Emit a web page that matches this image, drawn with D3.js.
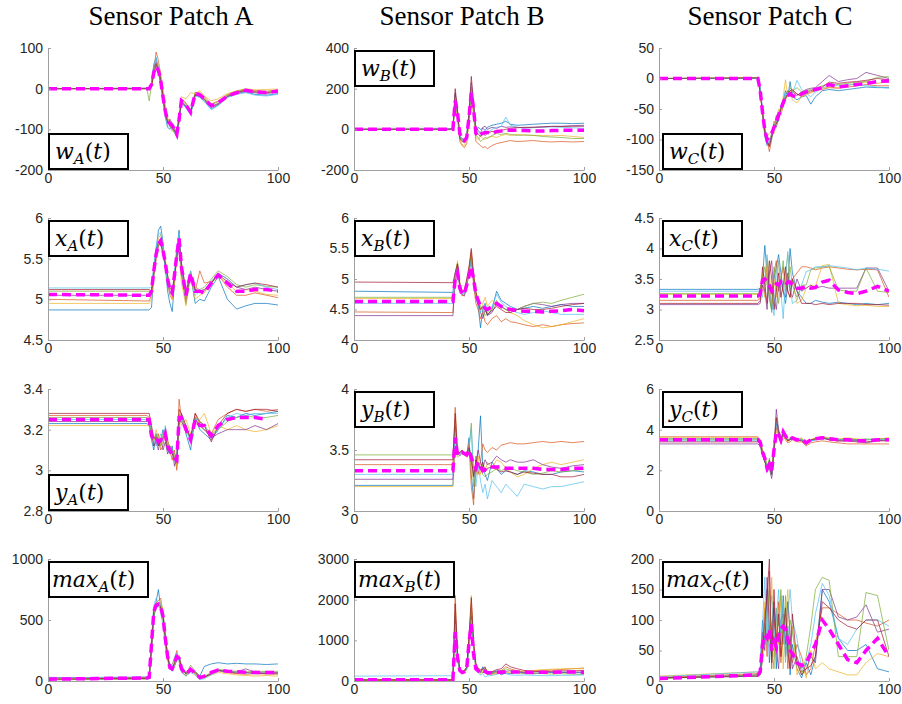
<!DOCTYPE html>
<html>
<head>
<meta charset="utf-8">
<script src="https://cdn.jsdelivr.net/npm/d3@7"></script>
<style>
  body { margin: 0; background: #fff; }
</style>
</head>
<body>
<svg id="chart" width="902" height="704"></svg>
<script>
// shared time samples (same for every trace)
const T = [0, 43,  44, 45, 46, 47, 48, 49, 50, 51, 52, 53, 54, 55, 56, 57, 58,  60, 62, 64, 66, 68, 71, 74, 78, 82, 86, 90, 95, 100];

const patches = ["Sensor Patch A", "Sensor Patch B", "Sensor Patch C"];
const varNames = ["w", "x", "y", "max"];
const subNames = ["A", "B", "C"];
const colors = ["#0072BD", "#D95319", "#EDB120", "#7E2F8E", "#77AC30", "#4DBEEE", "#A2142F"];

// ---- w(t) ----
const wA = [
  [0,1,  0,15,60,75,50,15,-30,-70,-95,-100,-90,-105,-120,-80,-35,  -45,-62,-15,-20,-30,-50,-40,-20,-12,-8,-14,-16,-12],
  [0,0,  2,5,45,90,70,30,-10,-50,-75,-80,-95,-110,-100,-70,-25,  -35,-55,-10,-10,-20,-38,-30,-15,-8,-2,-5,-6,-4],
  [0,0,  1,8,30,50,60,40,0,-40,-70,-90,-105,-95,-105,-60,-20,  -25,-10,-12,-5,-18,-30,-25,-12,-5,0,-3,-2,-1],
  [0,1,  0,12,50,65,40,10,-25,-60,-85,-75,-85,-100,-115,-78,-30,  -42,-60,-14,-16,-28,-44,-36,-20,-10,-6,-10,-12,-8],
  [0,0,  -30,10,40,60,45,25,-15,-52,-80,-88,-92,-98,-108,-72,-28,  -38,-52,-8,-14,-24,-40,-32,-15,-6,-2,-6,-8,-4],
  [0,0,  0,14,55,78,52,18,-28,-65,-90,-95,-100,-108,-118,-82,-36,  -48,-64,-18,-22,-32,-52,-42,-22,-14,-10,-16,-18,-14],
  [0,0,  1,6,35,60,48,22,-18,-58,-82,-92,-98,-104,-110,-74,-32,  -44,-58,-16,-18,-26,-46,-38,-18,-9,-4,-8,-10,-7]
];
const wAmean = [0,0,  0,10,40,55,45,20,-20,-55,-80,-85,-90,-100,-112,-75,-30,  -40,-58,-12,-15,-25,-42,-35,-18,-10,-4,-8,-10,-6];

const wB = [
  [0,2,  180,90,-40,-50,-55,-30,80,230,120,-10,10,0,5,-5,10,  20,25,30,40,25,20,22,25,28,30,30,28,30],
  [0,-2,  150,70,-60,-80,-90,-70,40,170,80,-60,-70,-80,-90,-85,-95,  -80,-70,-65,-60,-55,-60,-58,-55,-60,-62,-60,-62,-60],
  [0,0,  120,60,-50,-75,-80,-50,50,160,70,-40,-50,-30,-45,-50,-40,  -35,-40,-30,-25,-30,-25,-28,-30,-30,-32,-30,-35,-40],
  [0,1,  170,80,-35,-45,-50,-30,70,210,110,10,-5,-20,10,15,0,  10,5,15,10,12,10,8,10,12,14,15,18,20],
  [0,-1,  140,60,-40,-55,-60,-45,55,190,95,-30,-40,-60,-50,-40,-45,  -30,-20,-25,-20,-25,-30,-28,-30,-35,-38,-40,-45,-45],
  [0,0,  160,85,-30,-50,-55,-35,65,220,105,-20,-10,-30,-20,-10,-15,  0,10,15,60,20,10,5,8,10,12,10,8,5],
  [0,1,  200,100,-45,-60,-65,-45,75,260,130,-15,-25,-35,-20,-30,-20,  -10,-15,-5,0,5,8,10,10,12,15,14,15,15]
];
const wBmean = [0,0,  140,80,-20,-50,-55,-40,60,180,100,-20,-35,-25,-20,-15,-15,  -20,-10,-8,-5,-5,-5,-6,-8,-8,-6,-5,-5,-5];

const wC = [
  [0,1,  -15,-60,-95,-110,-105,-95,-85,-60,-70,-45,-35,-20,-30,-5,-30,  -35,-30,-28,-42,-30,-20,-18,-20,-18,-16,-14,-15,-15],
  [0,0,  -25,-50,-80,-100,-120,-100,-70,-75,-55,-60,-45,-35,-25,-30,-20,  -25,-30,-25,-22,-20,-18,-15,-16,-14,-12,-10,-12,-12],
  [0,1,  -20,-55,-85,-95,-90,-85,-90,-65,-50,-55,-30,-2,-30,-20,-35,  -40,-30,-26,-24,-20,-16,-14,-15,-12,-8,-6,-8,-5],
  [0,0,  -18,-52,-90,-105,-110,-88,-75,-80,-65,-45,-38,-28,-20,-25,-22,  -28,-22,-18,-16,-15,-5,5,-5,-2,0,10,5,0],
  [0,1,  -22,-58,-88,-98,-100,-92,-78,-68,-58,-48,-42,-30,-25,-15,-20,  -15,-22,-20,-18,-16,-12,-8,-10,-8,-6,-5,2,3],
  [0,0,  -16,-50,-82,-96,-108,-98,-84,-72,-62,-52,-36,-22,-30,-28,-24,  -3,-18,-24,-30,-22,-16,-10,-12,-10,-10,-12,-14,-16],
  [0,1,  -24,-56,-86,-102,-112,-96,-82,-74,-66,-50,-44,-32,-26,-20,-18,  -26,-28,-22,-20,-18,-14,-6,-8,-6,-5,-3,0,-2]
];
const wCmean = [0,0,  -20,-55,-85,-100,-95,-90,-80,-70,-60,-50,-40,-30,-28,-25,-28,  -30,-25,-22,-20,-18,-15,-10,-14,-12,-10,-8,-5,-4];

// ---- x(t) ----
const xA = [
  [4.87,4.87,  4.87,4.9,5.3,5.6,5.85,5.9,5.7,5.4,5.1,4.95,4.85,5.2,5.6,5.85,5.3,  4.95,5.3,4.95,5.0,4.98,5.15,5.28,5.0,4.88,4.92,4.95,4.95,4.93],
  [5.0,4.98,  4.98,5.05,5.35,5.55,5.7,5.75,5.6,5.45,5.2,5.05,5.0,5.25,5.55,5.7,5.35,  5.0,5.35,5.1,5.35,5.2,5.22,5.3,5.15,5.05,5.05,5.08,5.05,5.02],
  [4.95,4.95,  4.95,5.0,5.3,5.5,5.75,5.8,5.65,5.5,5.3,5.1,5.0,5.2,5.5,5.65,5.2,  4.92,5.3,5.0,5.05,5.08,5.2,5.28,5.2,5.1,5.12,5.1,5.06,5.05],
  [5.05,5.05,  5.05,5.1,5.4,5.6,5.7,5.72,5.55,5.4,5.25,5.1,5.05,5.3,5.6,5.75,5.4,  5.05,5.3,5.1,5.08,5.1,5.2,5.32,5.25,5.15,5.12,5.15,5.12,5.1],
  [5.1,5.1,  5.1,5.12,5.35,5.55,5.68,5.7,5.6,5.45,5.2,5.08,5.1,5.3,5.55,5.72,5.45,  5.1,5.32,5.15,5.12,5.15,5.25,5.35,5.28,5.18,5.15,5.18,5.16,5.15],
  [5.14,5.14,  5.14,5.15,5.4,5.65,5.8,5.82,5.6,5.4,5.2,5.1,5.05,5.35,5.65,5.8,5.4,  5.05,5.35,5.05,5.1,5.12,5.22,5.32,5.25,5.15,5.18,5.2,5.15,5.12],
  [5.12,5.12,  5.12,5.1,5.3,5.5,5.65,5.7,5.55,5.45,5.3,5.15,5.1,5.28,5.5,5.7,5.45,  5.1,5.3,5.12,5.1,5.12,5.2,5.3,5.22,5.15,5.18,5.2,5.18,5.15]
];
const xAmean = [5.06,5.05,  5.05,5.1,5.35,5.55,5.68,5.72,5.6,5.45,5.25,5.12,5.08,5.3,5.55,5.75,5.4,  5.05,5.32,5.1,5.1,5.08,5.2,5.3,5.2,5.1,5.1,5.12,5.12,5.1];

const xB = [
  [4.8,4.78,  5.1,5.25,4.9,4.8,4.78,4.95,5.15,5.4,5.0,4.7,4.55,4.2,4.5,4.6,4.4,  4.5,4.8,4.65,4.6,4.55,4.5,4.52,4.55,4.52,4.55,4.58,4.55,4.55],
  [4.46,4.45,  5.0,5.2,4.85,4.72,4.75,4.9,5.1,5.45,4.9,4.6,4.5,4.35,4.45,4.3,4.25,  4.35,4.4,4.3,4.35,4.3,4.28,4.25,4.22,4.25,4.22,4.25,4.27,4.28],
  [4.68,4.68,  5.05,5.3,4.95,4.82,4.78,4.92,5.2,5.45,5.1,4.8,4.65,4.5,4.6,4.7,4.55,  4.65,4.6,4.55,4.5,4.45,4.4,4.32,4.25,4.2,4.22,4.25,4.3,4.35],
  [4.4,4.4,  4.95,5.2,4.85,4.75,4.72,4.88,5.1,5.3,4.95,4.7,4.6,4.45,4.35,4.5,4.4,  4.45,4.6,4.55,4.5,4.52,4.5,4.55,4.6,4.58,4.55,4.58,4.6,4.6],
  [4.7,4.7,  5.05,5.25,4.9,4.78,4.8,4.95,5.15,5.4,5.05,4.75,4.65,4.55,4.5,4.4,4.45,  4.5,4.65,4.55,4.5,4.45,4.5,4.55,4.6,4.62,4.6,4.65,4.7,4.75],
  [4.6,4.6,  5.0,5.2,4.88,4.76,4.76,4.9,5.1,5.3,5.0,4.7,4.6,4.45,4.55,4.6,4.5,  4.55,4.75,4.62,4.55,4.5,4.45,4.42,4.45,4.48,4.45,4.42,4.42,4.42],
  [4.95,4.94,  5.1,5.25,4.92,4.8,4.82,5.0,5.2,5.5,5.05,4.8,4.6,4.5,4.55,4.5,4.42,  4.48,4.55,4.5,4.45,4.45,4.5,4.52,4.5,4.5,4.52,4.55,4.58,4.6]
];
const xBmean = [4.63,4.63,  5.0,5.1,4.85,4.75,4.76,4.9,5.05,5.2,5.0,4.75,4.65,4.55,4.55,4.52,4.5,  4.55,4.6,4.55,4.52,4.5,4.48,4.47,4.47,4.46,4.47,4.48,4.5,4.48];

const xC = [
  [3.33,3.33,  3.35,3.5,4.05,3.6,3.2,3.0,3.5,3.7,3.9,3.6,3.3,3.1,3.4,4.0,3.6,  3.3,3.2,3.1,3.1,3.15,3.12,3.1,3.12,3.1,3.08,3.1,3.08,3.1],
  [3.15,3.15,  3.2,3.4,3.3,3.8,3.4,3.0,3.6,3.8,3.3,3.5,3.7,3.4,3.3,3.2,3.5,  3.6,3.7,3.7,3.68,3.65,3.68,3.7,3.68,3.66,3.65,3.66,3.65,3.2],
  [3.25,3.25,  3.3,3.6,3.2,3.85,3.6,3.1,3.5,3.2,3.8,3.4,3.3,3.6,3.9,3.3,3.5,  3.1,3.15,3.35,3.4,3.38,3.72,3.74,3.1,3.08,3.06,3.07,3.05,3.05],
  [3.08,3.08,  3.1,3.4,3.3,3.0,3.6,3.8,3.2,3.0,3.4,3.5,3.3,3.2,3.6,3.3,3.2,  3.5,3.3,3.35,3.4,3.35,3.38,3.35,3.35,3.35,3.35,3.68,3.68,3.3],
  [3.26,3.26,  3.3,3.5,3.7,3.4,3.2,2.95,3.7,3.4,3.1,3.5,3.8,3.3,3.5,3.7,3.4,  3.2,3.4,3.4,3.65,3.68,3.7,3.7,3.32,3.3,3.3,3.68,3.3,3.28],
  [3.3,3.3,  3.3,3.2,3.5,3.9,3.3,3.1,2.9,3.6,3.8,3.3,2.85,3.5,3.95,3.4,3.1,  3.15,3.4,3.62,3.65,3.7,3.7,3.72,3.7,3.68,3.65,3.68,3.66,3.63],
  [3.1,3.1,  3.15,3.7,3.4,3.1,3.8,3.5,3.0,3.3,3.6,3.2,3.4,3.7,3.3,3.2,3.5,  3.3,3.1,3.1,3.1,3.08,3.1,3.08,3.1,3.1,3.1,3.08,3.08,3.07]
];
const xCmean = [3.22,3.22,  3.25,3.48,3.5,3.45,3.4,3.3,3.35,3.42,3.4,3.45,3.42,3.4,3.45,3.45,3.4,  3.35,3.35,3.38,3.35,3.36,3.45,3.48,3.32,3.28,3.26,3.3,3.38,3.3];

// ---- y(t) ----
const yA = [
  [3.23,3.23,  3.22,3.15,3.1,3.18,3.12,3.15,3.2,3.15,3.1,3.08,3.12,3.05,3.02,3.22,3.28,  3.18,3.1,3.26,3.2,3.18,3.15,3.2,3.27,3.26,3.28,3.27,3.28,3.29],
  [3.27,3.27,  3.26,3.2,3.12,3.15,3.18,3.1,3.12,3.2,3.15,3.1,3.05,3.1,3.0,3.35,3.25,  3.2,3.15,3.28,3.22,3.2,3.18,3.25,3.28,3.3,3.29,3.3,3.29,3.3],
  [3.22,3.22,  3.22,3.16,3.14,3.2,3.16,3.12,3.14,3.18,3.12,3.1,3.08,3.06,3.02,3.28,3.22,  3.25,3.18,3.22,3.25,3.28,3.18,3.22,3.2,3.22,3.2,3.19,3.2,3.22],
  [3.24,3.24,  3.24,3.18,3.12,3.14,3.1,3.16,3.1,3.14,3.08,3.12,3.1,3.02,3.08,3.24,3.24,  3.2,3.16,3.25,3.22,3.2,3.16,3.18,3.2,3.2,3.2,3.22,3.2,3.23],
  [3.26,3.26,  3.25,3.18,3.15,3.18,3.14,3.12,3.18,3.2,3.14,3.12,3.1,3.08,3.05,3.25,3.26,  3.22,3.15,3.26,3.24,3.22,3.18,3.2,3.24,3.26,3.27,3.26,3.26,3.27],
  [3.25,3.25,  3.25,3.2,3.15,3.12,3.15,3.18,3.14,3.22,3.12,3.08,3.1,3.05,3.08,3.26,3.26,  3.2,3.14,3.26,3.22,3.22,3.16,3.2,3.26,3.28,3.27,3.28,3.28,3.28],
  [3.28,3.28,  3.28,3.22,3.16,3.16,3.12,3.14,3.16,3.18,3.1,3.1,3.08,3.06,3.04,3.3,3.28,  3.22,3.16,3.28,3.24,3.22,3.14,3.22,3.28,3.3,3.29,3.3,3.3,3.29]
];
const yAmean = [3.25,3.25,  3.25,3.17,3.15,3.16,3.14,3.15,3.15,3.18,3.12,3.1,3.08,3.06,3.05,3.26,3.26,  3.2,3.15,3.25,3.22,3.22,3.17,3.22,3.25,3.26,3.26,3.26,3.25];

const yB = [
  [3.21,3.21,  3.6,3.48,3.45,3.48,3.47,3.45,3.6,3.3,3.1,3.4,3.5,3.78,3.35,3.3,3.25,  3.4,3.35,3.3,3.33,3.32,3.3,3.33,3.32,3.3,3.3,3.32,3.33,3.32],
  [3.38,3.38,  3.85,3.5,3.47,3.49,3.48,3.46,3.55,3.2,3.05,3.45,3.3,3.4,3.55,3.5,3.48,  3.52,3.5,3.54,3.55,3.56,3.55,3.55,3.56,3.57,3.56,3.57,3.56,3.57],
  [3.2,3.2,  3.5,3.44,3.46,3.48,3.46,3.44,3.48,3.35,3.25,3.3,3.45,3.3,3.38,3.32,3.4,  3.35,3.42,3.4,3.35,3.32,3.28,3.3,3.35,3.38,3.4,3.38,3.4,3.42],
  [3.26,3.26,  3.7,3.46,3.47,3.49,3.47,3.45,3.5,3.4,3.3,3.35,3.5,3.4,3.35,3.42,3.38,  3.4,3.45,3.42,3.4,3.42,3.4,3.4,3.42,3.38,3.36,3.35,3.37,3.38],
  [3.46,3.46,  3.75,3.48,3.48,3.5,3.47,3.46,3.5,3.72,3.2,3.3,3.4,3.35,3.3,3.28,3.3,  3.32,3.35,3.33,3.35,3.35,3.33,3.32,3.3,3.31,3.33,3.32,3.33,3.34],
  [3.3,3.3,  3.65,3.46,3.47,3.48,3.46,3.46,3.52,3.68,3.35,3.2,3.38,3.25,3.15,3.22,3.1,  3.25,3.2,3.15,3.22,3.18,3.12,3.22,3.2,3.18,3.2,3.2,3.22,3.24],
  [3.42,3.42,  3.8,3.47,3.48,3.5,3.48,3.47,3.52,3.45,3.28,3.42,3.38,3.35,3.4,3.32,3.35,  3.36,3.34,3.32,3.33,3.32,3.3,3.32,3.31,3.3,3.3,3.28,3.28,3.3]
];
const yBmean = [3.33,3.33,  3.6,3.46,3.47,3.48,3.47,3.46,3.5,3.44,3.38,3.35,3.4,3.36,3.33,3.34,3.36,  3.36,3.36,3.36,3.35,3.35,3.35,3.35,3.35,3.34,3.34,3.34,3.35,3.35];

const yC = [
  [3.55,3.55,  3.4,2.8,2.4,2.2,2.5,1.8,3.2,4.3,3.9,3.4,3.8,3.6,3.45,3.55,3.65,  3.5,3.5,3.3,3.45,3.5,3.6,3.55,3.5,3.55,3.5,3.5,3.55,3.55],
  [3.65,3.65,  3.5,3.0,2.7,2.0,2.2,1.7,2.8,4.1,3.7,3.3,3.7,3.5,3.35,3.4,3.5,  3.4,3.4,3.2,3.35,3.4,3.45,3.4,3.35,3.3,3.3,3.3,3.3,3.3],
  [3.6,3.6,  3.45,2.9,2.6,2.3,2.4,2.0,3.0,3.9,3.8,3.4,3.6,3.55,3.4,3.5,3.6,  3.5,3.6,3.35,3.5,3.6,3.65,3.6,3.55,3.6,3.55,3.5,3.55,3.6],
  [3.3,3.3,  3.2,2.7,2.5,1.9,2.1,1.6,3.1,5.0,4.0,3.5,3.9,3.7,3.5,3.55,3.6,  3.45,3.5,3.3,3.45,3.55,3.6,3.5,3.45,3.45,3.4,3.35,3.45,3.5],
  [3.5,3.5,  3.4,3.0,2.8,2.1,2.6,1.9,3.3,4.5,3.85,3.55,3.95,3.65,3.5,3.6,3.65,  3.55,3.55,3.35,3.5,3.55,3.65,3.55,3.5,3.55,3.5,3.55,3.5,3.55],
  [3.45,3.45,  3.35,2.8,2.5,2.2,2.3,1.7,2.9,4.4,4.0,3.45,3.85,3.6,3.45,3.5,3.6,  3.45,3.5,3.25,3.45,3.5,3.55,3.55,3.5,3.5,3.45,3.5,3.5,3.5],
  [3.4,3.4,  3.3,2.85,2.45,2.05,2.2,1.8,3.0,4.6,3.9,3.5,3.8,3.65,3.45,3.5,3.55,  3.5,3.45,3.3,3.5,3.55,3.6,3.5,3.45,3.45,3.45,3.4,3.45,3.45]
];
const yCmean = [3.5,3.5,  3.4,2.9,2.6,2.1,2.3,2.0,3.0,3.9,3.8,3.5,3.9,3.7,3.5,3.55,3.6,  3.5,3.55,3.35,3.5,3.55,3.6,3.55,3.5,3.5,3.45,3.45,3.5,3.5];

// ---- max(t) ----
const maxA = [
  [10,20,  25,250,500,650,750,600,550,400,200,100,80,150,200,180,100,  60,100,80,40,120,140,150,140,145,140,140,135,140],
  [20,30,  40,320,600,640,660,680,550,300,180,120,140,180,250,170,80,  40,90,60,20,30,60,90,70,60,55,60,58,55],
  [15,25,  35,280,560,600,620,650,580,380,220,140,110,130,200,190,100,  70,110,50,20,25,50,70,60,50,45,40,45,40],
  [30,20,  20,300,590,620,610,600,520,340,210,120,90,120,170,200,130,  60,80,70,30,35,60,90,80,75,100,70,72,70],
  [10,15,  20,260,540,590,640,620,500,320,190,100,110,140,190,210,110,  50,130,80,40,40,70,95,85,80,75,80,78,80],
  [25,35,  30,350,620,680,640,560,450,300,170,90,120,200,230,160,70,  40,70,50,10,20,50,80,75,70,65,60,62,60],
  [15,25,  30,290,570,610,630,610,530,360,200,110,100,150,200,190,110,  60,100,70,25,30,60,85,75,65,70,65,60,65]
];
const maxAmean = [15,25,  30,300,570,620,630,610,530,350,200,110,100,150,200,185,100,  55,95,65,28,40,70,90,80,75,72,70,70,68];

const maxB = [
  [30,30,  1500,600,250,200,220,300,900,1700,800,350,250,200,350,250,150,  200,250,150,200,180,220,200,180,200,210,220,200,210],
  [20,25,  2100,700,280,220,250,350,1000,1900,900,400,300,250,200,300,250,  180,200,250,350,300,250,220,250,260,270,280,300,320],
  [20,20,  1300,500,230,180,200,260,800,2100,700,300,220,180,240,200,180,  150,180,200,220,200,250,240,260,280,290,300,310,300],
  [25,25,  1600,650,260,230,240,320,950,1600,850,380,260,220,300,280,200,  220,230,260,240,250,230,210,220,230,220,210,220,220],
  [30,30,  1700,620,270,210,230,310,1050,1800,880,360,240,200,280,320,180,  190,220,240,300,260,200,180,190,180,170,180,170,160],
  [120,130,  1400,550,240,190,210,280,850,1500,750,320,200,150,180,100,120,  140,160,200,180,150,140,150,140,130,130,140,140,150],
  [25,25,  1900,680,290,240,260,340,1100,2050,950,420,310,280,300,350,200,  230,280,300,420,350,300,260,240,230,240,250,250,260]
];
const maxBmean = [30,30,  1200,580,260,210,230,300,950,1400,650,300,250,200,250,230,200,  200,220,210,230,220,220,215,210,215,215,220,220,215];

const maxC = [
  [5,8,  20,100,60,150,30,90,120,20,80,60,140,40,90,10,60,  20,5,30,10,40,150,130,70,50,50,60,20,15],
  [6,12,  15,60,120,40,180,20,100,70,130,30,90,110,20,70,30,  60,40,10,20,60,120,120,110,100,100,95,90,100],
  [8,15,  10,40,130,80,60,170,40,110,60,140,20,100,150,60,90,  10,30,5,50,20,30,20,15,10,10,30,45,40],
  [5,10,  12,80,50,170,90,40,130,50,20,100,110,60,130,80,20,  40,15,20,40,30,150,150,105,100,105,125,80,85],
  [4,10,  15,30,90,110,150,60,20,120,90,150,60,140,40,100,80,  30,10,40,90,150,170,165,40,40,40,145,140,50],
  [7,15,  18,90,170,60,110,140,60,100,150,80,130,30,110,150,100,  70,20,30,60,110,160,140,70,60,85,100,100,90],
  [5,8,  10,50,100,140,200,30,150,60,110,40,80,120,50,20,110,  30,10,20,25,40,130,120,100,90,85,100,100,40]
];
const maxCmean = [4,10,  15,60,75,70,85,50,65,55,75,85,90,85,70,50,45,  30,25,30,45,60,100,85,60,35,30,50,70,40];

// axis ranges / ticks per panel
const panels = [
  { row: 0, col: 0, series: wA, mean: wAmean, domain: [-200, 100], ticks: [-200, -100, 0, 100], box: "bottom" },
  { row: 0, col: 1, series: wB, mean: wBmean, domain: [-200, 400], ticks: [-200, 0, 200, 400], box: "top" },
  { row: 0, col: 2, series: wC, mean: wCmean, domain: [-150, 50], ticks: [-150, -100, -50, 0, 50], box: "bottom" },
  { row: 1, col: 0, series: xA, mean: xAmean, domain: [4.5, 6], ticks: [4.5, 5, 5.5, 6], box: "top" },
  { row: 1, col: 1, series: xB, mean: xBmean, domain: [4, 6], ticks: [4, 4.5, 5, 5.5, 6], box: "top" },
  { row: 1, col: 2, series: xC, mean: xCmean, domain: [2.5, 4.5], ticks: [2.5, 3, 3.5, 4, 4.5], box: "top" },
  { row: 2, col: 0, series: yA, mean: yAmean, domain: [2.8, 3.4], ticks: [2.8, 3, 3.2, 3.4], box: "bottom" },
  { row: 2, col: 1, series: yB, mean: yBmean, domain: [3, 4], ticks: [3, 3.5, 4], box: "top" },
  { row: 2, col: 2, series: yC, mean: yCmean, domain: [0, 6], ticks: [0, 2, 4, 6], box: "top" },
  { row: 3, col: 0, series: maxA, mean: maxAmean, domain: [0, 1000], ticks: [0, 500, 1000], box: "top" },
  { row: 3, col: 1, series: maxB, mean: maxBmean, domain: [0, 3000], ticks: [0, 1000, 2000, 3000], box: "top" },
  { row: 3, col: 2, series: maxC, mean: maxCmean, domain: [0, 200], ticks: [0, 50, 100, 150, 200], box: "top" }
];

// layout
const W = 230, H = 122;
const colX = [48, 354, 659];
const rowY = [48, 218, 389, 559];
const titleX = [171, 462, 770];

const svg = d3.select("#chart");

// column titles
svg.selectAll(".title")
    .data(patches)
    .join("text")
    .attr("class", "title")
    .attr("x", (d, i) => titleX[i])
    .attr("y", 25)
    .attr("text-anchor", "middle")
    .style("font-family", "'Liberation Serif', 'Times New Roman', serif")
    .style("font-size", "27px")
    .text(d => d);

const x = d3.scaleLinear().domain([0, 100]).range([0, W]);

panels.forEach(p => {
    const g = svg.append("g")
        .attr("transform", `translate(${colX[p.col]},${rowY[p.row]})`);

    const y = d3.scaleLinear().domain(p.domain).range([H, 0]);
    const clipId = `clip-${p.row}-${p.col}`;
    g.append("clipPath").attr("id", clipId)
        .append("rect").attr("width", W).attr("height", H);

    const line = d3.line()
        .x((d, i) => x(T[i]))
        .y(d => y(d));

    const plot = g.append("g").attr("clip-path", `url(#${clipId})`);

    plot.selectAll(".trace")
        .data(p.series)
        .join("path")
        .attr("class", "trace")
        .attr("d", line)
        .attr("fill", "none")
        .attr("stroke", (d, i) => colors[i % colors.length])
        .attr("stroke-width", 0.7)
        .attr("stroke-linejoin", "round");

    // average trace, dashed magenta on top
    plot.append("path")
        .attr("d", line(p.mean))
        .attr("fill", "none")
        .attr("stroke", "#ff00ff")
        .attr("stroke-width", 3.5)
        .attr("stroke-dasharray", "9,5");

    // axes (MATLAB style: box off, ticks inward)
    const xAxis = g.append("g")
        .attr("transform", `translate(0,${H})`)
        .call(d3.axisBottom(x).tickValues([0, 50, 100]).tickSizeInner(-3).tickSizeOuter(0).tickPadding(3).tickFormat(d => String(d)));
    const yAxis = g.append("g")
        .call(d3.axisLeft(y).tickValues(p.ticks).tickSizeInner(-3).tickSizeOuter(0).tickPadding(5).tickFormat(d => String(d)));

    [xAxis, yAxis].forEach(a => {
        a.select(".domain").attr("stroke", "#a0a0a0");
        a.selectAll(".tick line").attr("stroke", "#a0a0a0");
        a.selectAll(".tick text")
            .attr("fill", "#262626")
            .style("font-family", "'Liberation Sans', Arial, sans-serif")
            .style("font-size", "14px");
    });

    // variable label box
    const isMax = p.row === 3;
    const bw = isMax ? 99 : 79, bh = 35;
    const bx = p.col === 2 ? 4 : 1;
    const by = p.box === "top" ? 3 : H - bh - 1;
    g.append("rect")
        .attr("x", bx).attr("y", by)
        .attr("width", bw).attr("height", bh)
        .attr("fill", "#fff")
        .attr("stroke", "#000")
        .attr("stroke-width", 2);

    const lbl = g.append("text")
        .attr("x", bx + (isMax ? 3 : 6))
        .attr("y", by + 25)
        .style("font-family", "'DejaVu Serif', serif")
        .style("font-size", "22px");
    lbl.append("tspan").attr("font-style", "italic").text(varNames[p.row]);
    lbl.append("tspan").attr("font-style", "italic").attr("font-size", 15).attr("dy", 5).text(subNames[p.col]);
    lbl.append("tspan").attr("dy", -5).text("(");
    lbl.append("tspan").attr("font-style", "italic").text("t");
    lbl.append("tspan").text(")");
});
</script>
</body>
</html>
